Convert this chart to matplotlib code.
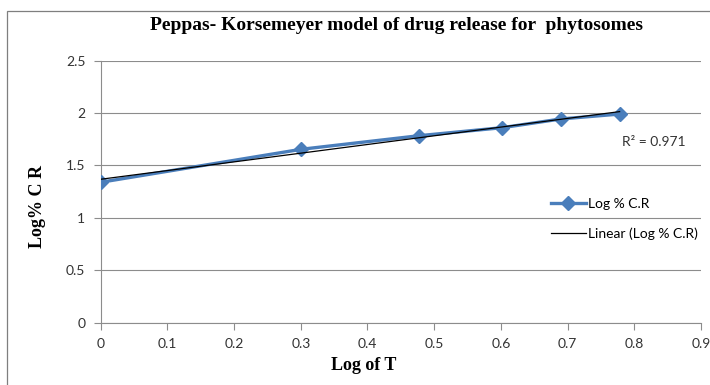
import matplotlib
matplotlib.use("Agg")

import matplotlib.pyplot as plt
from matplotlib.lines import Line2D
from matplotlib.patches import Rectangle
import numpy as np


# log of time points and log % cumulative release
log_t = [0.0, 0.301, 0.477, 0.602, 0.69, 0.778]
log_cr = [1.34, 1.655, 1.784, 1.861, 1.944, 1.991]
r_squared = 0.971

x_ticks = [0, 0.1, 0.2, 0.3, 0.4, 0.5, 0.6, 0.7, 0.8, 0.9]
y_ticks = [0, 0.5, 1, 1.5, 2, 2.5]

SERIES_BLUE = "#4a7ebb"
GRID_GREY = "#8c8c8c"
TICK_FONT = "Lato"
SERIF_FONT = "Liberation Serif"


fig = plt.figure(figsize=(7.1, 3.85), dpi=100)

# chart frame (Excel style, runs off the right/bottom edge)
fig.patches.append(Rectangle((7 / 710, -0.1), 1.2, (385 - 11) / 385 + 0.1,
                             transform=fig.transFigure, fill=False,
                             edgecolor="#7f7f7f", linewidth=0.9))

ax = fig.add_axes([100.7 / 710, 1 - 322.7 / 385, 600.3 / 710, 262 / 385])

# linear trendline through the release data
slope, intercept = np.polyfit(log_t, log_cr, 1)
fit_x = np.array([log_t[0], log_t[-1]])

ax.plot(log_t, log_cr, color=SERIES_BLUE, linewidth=2.4, marker="D",
        markersize=7, zorder=3)
ax.plot(fit_x, slope * fit_x + intercept, color="black", linewidth=0.9, zorder=4)

ax.set_xlim(0, 0.9)
ax.set_ylim(0, 2.5)
ax.set_xticks(x_ticks)
ax.set_yticks(y_ticks)
ax.set_xticklabels([f"{v:g}" for v in x_ticks], fontname=TICK_FONT, fontsize=10, color="#333333")
ax.set_yticklabels([f"{v:g}" for v in y_ticks], fontname=TICK_FONT, fontsize=10, color="#333333")
ax.tick_params(axis="both", length=5, width=0.8, color=GRID_GREY, pad=6)

ax.grid(axis="y", color=GRID_GREY, linewidth=0.8)
ax.set_axisbelow(True)
for side in ("top", "right"):
    ax.spines[side].set_visible(False)
for side in ("left", "bottom"):
    ax.spines[side].set_color(GRID_GREY)
    ax.spines[side].set_linewidth(0.8)

fig.text(396 / 710, 1 - 25 / 385, "Peppas- Korsemeyer model of drug release for  phytosomes",
         ha="center", va="center", fontname=SERIF_FONT, fontweight="bold", fontsize=14)
fig.text(37 / 710, 1 - 207 / 385, "Log% C R", rotation=90, ha="center", va="center",
         fontname=SERIF_FONT, fontweight="bold", fontsize=13)
fig.text(364 / 710, 1 - 366 / 385, "Log of T", ha="center", va="center",
         fontname=SERIF_FONT, fontweight="bold", fontsize=13)

fig.text(622 / 710, 1 - 142 / 385, f"R² = {r_squared:.3f}", ha="left", va="center",
         fontname=TICK_FONT, fontsize=10, color="#333333")

handles = [
    Line2D([], [], color=SERIES_BLUE, linewidth=2.4, marker="D", markersize=7),
    Line2D([], [], color="black", linewidth=0.9),
]
fig.legend(handles, ["Log % C.R", "Linear (Log % C.R)"], loc="upper left",
           bbox_to_anchor=(551 / 710, 1 - 198 / 385), frameon=False,
           prop={"family": TICK_FONT, "size": 10}, handlelength=2.5,
           handletextpad=0.2, labelspacing=1.25, borderaxespad=0, borderpad=0)

fig.savefig("out.png", dpi=100)
